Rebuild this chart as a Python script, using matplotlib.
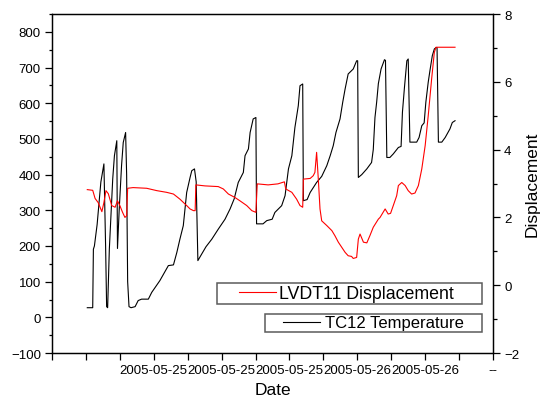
import matplotlib
matplotlib.use('Agg')
import matplotlib.pyplot as plt
from matplotlib.legend_handler import HandlerBase
from matplotlib.lines import Line2D
from matplotlib.ticker import MultipleLocator

plt.rcParams['font.family'] = ['Liberation Sans', 'DejaVu Sans']

# TC12 temperature (left axis)
t_temp = [1.04, 1.20, 1.22, 1.25, 1.33, 1.44, 1.53, 1.58, 1.61, 1.64, 1.69, 1.79, 1.84, 1.91,
          1.93, 1.98, 2.05, 2.10, 2.17, 2.20, 2.23, 2.27, 2.33, 2.45, 2.54, 2.64, 2.84, 2.94,
          3.18, 3.43, 3.58, 3.68, 3.77, 3.87, 3.97, 4.07, 4.12, 4.20, 4.25, 4.30, 4.41, 4.54,
          4.71, 4.90, 5.10, 5.25, 5.37, 5.49, 5.64, 5.69, 5.79, 5.84, 5.93, 6.01, 6.03, 6.22,
          6.33, 6.49, 6.57, 6.77, 6.87, 6.97, 7.07, 7.16, 7.26, 7.31, 7.39, 7.41, 7.52, 7.61,
          7.80, 7.95, 8.10, 8.20, 8.29, 8.37, 8.49, 8.57, 8.64, 8.73, 8.88, 8.98, 9.01, 9.03,
          9.13, 9.28, 9.42, 9.47, 9.52, 9.57, 9.62, 9.70, 9.80, 9.83, 9.87, 9.96, 10.06, 10.21,
          10.29, 10.33, 10.39, 10.46, 10.50, 10.55, 10.75, 10.82, 10.90, 10.97, 11.02, 11.09,
          11.14, 11.21, 11.27, 11.32, 11.35, 11.39, 11.49, 11.59, 11.73, 11.80, 11.88]
temp = [27, 27, 191, 200, 260, 379, 430, 200, 30, 27, 191, 388, 453, 495,
        193, 300, 425, 490, 518, 400, 100, 30, 27, 30, 47, 51, 51, 70,
        103, 145, 147, 182, 219, 257, 350, 392, 411, 416, 380, 159, 177, 198,
        219, 247, 275, 304, 332, 378, 406, 453, 472, 518, 556, 560, 262, 262,
        271, 275, 294, 313, 341, 416, 453, 532, 593, 649, 654, 327, 330, 350,
        378, 395, 425, 453, 481, 518, 556, 603, 640, 682, 696, 719, 719, 392,
        400, 416, 434, 470, 560, 603, 655, 696, 722, 720, 448, 448, 458, 476,
        479, 575, 645, 719, 724, 491, 491, 504, 537, 545, 603, 659,
        691, 733, 752, 756, 756, 491, 491, 504, 528, 546, 551]

# LVDT11 displacement (right axis)
t_disp = [1.04, 1.20, 1.27, 1.36, 1.47, 1.53, 1.59, 1.66, 1.76, 1.86, 1.93, 2.00, 2.08, 2.15,
          2.20, 2.23, 2.39, 2.79, 3.09, 3.38, 3.58, 3.77, 3.97, 4.07, 4.17, 4.22, 4.24, 4.51,
          4.90, 5.05, 5.20, 5.39, 5.54, 5.74, 5.89, 6.01, 6.05, 6.37, 6.66, 6.85, 6.89, 7.07,
          7.21, 7.31, 7.39, 7.41, 7.61, 7.70, 7.75, 7.80, 7.85, 7.90, 7.95, 8.10, 8.25, 8.34,
          8.44, 8.54, 8.64, 8.73, 8.83, 8.88, 8.98, 9.03, 9.08, 9.18, 9.28, 9.37, 9.47, 9.62,
          9.67, 9.82, 9.91, 9.98, 10.06, 10.16, 10.21, 10.31, 10.41, 10.50, 10.60, 10.70, 10.80,
          10.90, 11.00, 11.09, 11.19, 11.27, 11.32, 11.88]
disp = [2.82, 2.80, 2.56, 2.44, 2.17, 2.44, 2.79, 2.70, 2.35, 2.30, 2.49, 2.35, 2.15, 2.00,
        2.05, 2.86, 2.88, 2.86, 2.79, 2.74, 2.69, 2.54, 2.35, 2.25, 2.20, 2.20, 2.96, 2.93,
        2.91, 2.84, 2.69, 2.59, 2.49, 2.35, 2.20, 2.15, 2.99, 2.96, 2.99, 3.05, 2.84, 2.74,
        2.54, 2.35, 2.30, 3.13, 3.15, 3.23, 3.33, 3.92, 3.13, 2.25, 1.90, 1.76, 1.61, 1.46,
        1.27, 1.12, 0.97, 0.87, 0.85, 0.79, 0.82, 1.36, 1.51, 1.27, 1.25, 1.46, 1.71, 1.95,
        2.00, 2.25, 2.10, 2.12, 2.35, 2.64, 2.94, 3.03, 2.94, 2.79, 2.69, 2.72, 2.94,
        3.43, 4.12, 5.00, 6.08, 6.87, 7.02, 7.02]

tick_labels = ['', '', '', '2005-05-25', '', '2005-05-25', '', '2005-05-25', '',
               '2005-05-26', '', '2005-05-26', '', '--']


class PadLine(HandlerBase):
    # legend line that starts some points in from the frame
    def __init__(self, gap):
        super().__init__()
        self.gap = gap

    def create_artists(self, legend, orig_handle, xdescent, ydescent, width, height, fontsize, trans):
        y = height / 2 - ydescent
        ln = Line2D([-xdescent + self.gap, -xdescent + width], [y, y],
                    color=orig_handle.get_color(), lw=orig_handle.get_linewidth())
        ln.set_transform(trans)
        return [ln]


fig = plt.figure(figsize=(5.4, 4.06), dpi=100)
ax = fig.add_axes([0.0963, 0.128, 0.8167, 0.835])
ax2 = ax.twinx()

l_temp, = ax.plot(t_temp, temp, color='black', lw=0.8)
l_disp, = ax2.plot(t_disp, disp, color='red', lw=0.8)

ax.set_xlim(0, 13)
ax.set_ylim(-100, 850)
ax2.set_ylim(-2, 8)

ax.set_xticks(range(len(tick_labels)))
ax.set_xticklabels(tick_labels)
ax.yaxis.set_major_locator(MultipleLocator(100))
ax.yaxis.set_minor_locator(MultipleLocator(50))
ax2.yaxis.set_major_locator(MultipleLocator(2))
ax2.yaxis.set_minor_locator(MultipleLocator(1))

ax.tick_params(axis='both', which='major', direction='out', length=5, width=0.9,
               labelsize=9.5, pad=3)
ax.tick_params(axis='y', which='minor', direction='out', length=2.5, width=0.9)
ax.tick_params(axis='x', which='major', length=5)
ax2.tick_params(axis='y', which='major', direction='out', length=5, width=0.9,
                labelsize=9.5, pad=3)
ax2.tick_params(axis='y', which='minor', direction='out', length=3, width=0.9)

for a in (ax, ax2):
    for s in a.spines.values():
        s.set_linewidth(0.9)

ax.set_xlabel('Date', fontsize=12.5)
ax2.set_ylabel('Displacement', fontsize=12.5)

leg1 = ax2.legend([l_disp], ['LVDT11 Displacement'], loc='lower left',
                  bbox_to_anchor=(0.374, 0.1445, 0.601, 0.0645), mode='expand',
                  borderaxespad=0, borderpad=0.1, fontsize=12.8,
                  handlelength=3.2, handletextpad=0.17, fancybox=False,
                  handler_map={l_disp: PadLine(14.4)})
leg1.get_frame().set_edgecolor('#333333')
leg1.get_frame().set_linewidth(1.1)
ax2.add_artist(leg1)

leg2 = ax2.legend([l_temp], ['TC12 Temperature'], loc='lower left',
                  bbox_to_anchor=(0.483, 0.062, 0.492, 0.065), mode='expand',
                  borderaxespad=0, borderpad=0.1, fontsize=12,
                  handlelength=3.22, handletextpad=0.3, fancybox=False,
                  handler_map={l_temp: PadLine(12.1)})
leg2.get_frame().set_edgecolor('#333333')
leg2.get_frame().set_linewidth(1.1)

fig.savefig('out.png', dpi=100)
